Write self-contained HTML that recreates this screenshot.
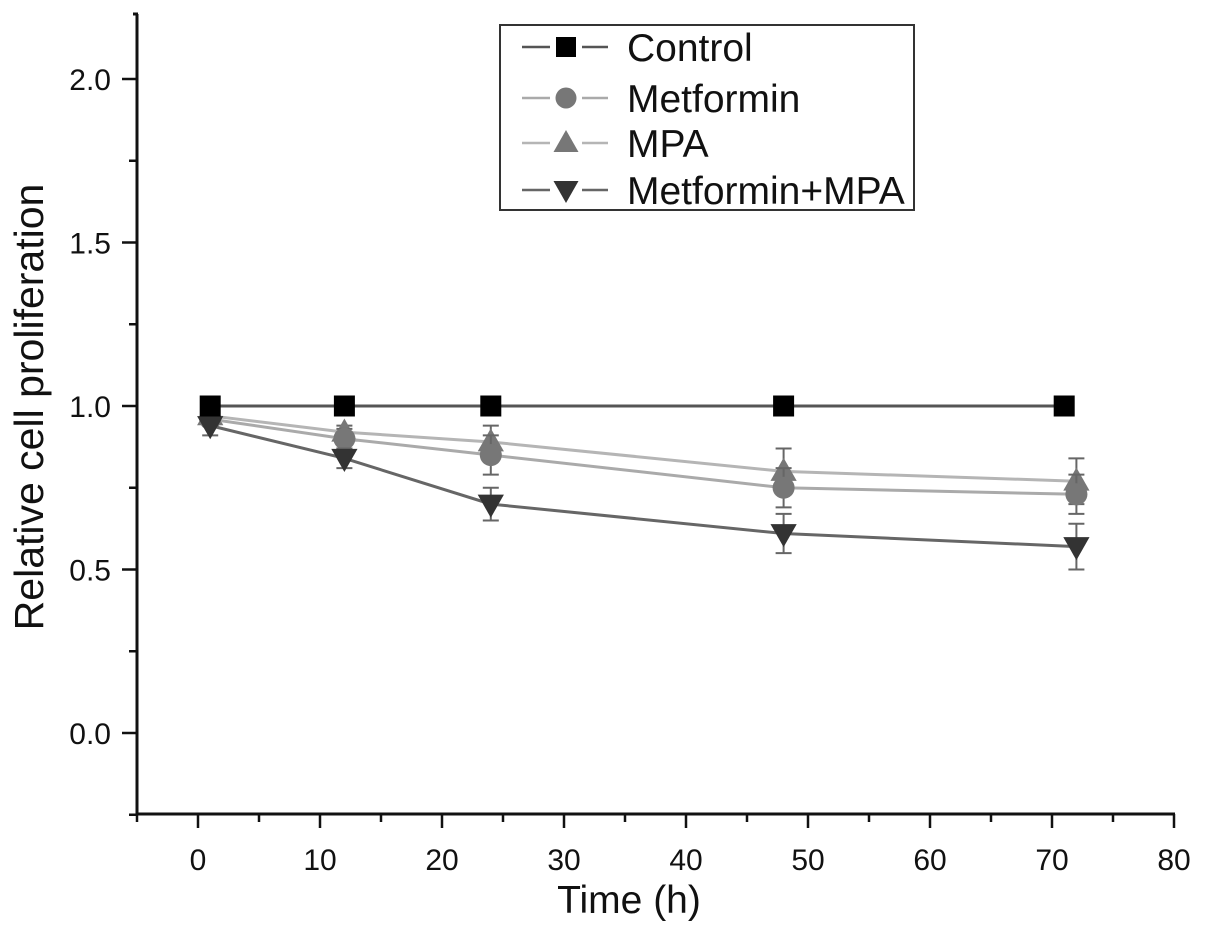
<!DOCTYPE html>
<html><head><meta charset="utf-8"><style>
body{margin:0;background:#fff;}
svg{display:block;font-family:"Liberation Sans",Arial,sans-serif;}
</style></head><body>
<svg id="chart" width="1205" height="933" viewBox="0 0 1205 933">
<g id="axes"></g>
<g id="series"></g>
<text transform="translate(43,407) rotate(-90)" text-anchor="middle" font-size="41" fill="#111">Relative cell proliferation</text>
<text x="629" y="913" text-anchor="middle" font-size="39" fill="#111">Time (h)</text>
<g>
<rect x="500" y="25" width="414" height="185" fill="#fff" stroke="#333" stroke-width="2"/>
<g id="legend-items"></g>
</g>
</svg>
<script>
const xTicks=[0,10,20,30,40,50,60,70,80];
const yTicks=[0.0,0.5,1.0,1.5,2.0];
const yTickLabels=["0.0","0.5","1.0","1.5","2.0"];
const seriesNames=["Control","Metformin","MPA","Metformin+MPA"];
const controlX=[1,12,24,48,71];
const controlY=[1.0,1.0,1.0,1.0,1.0];
const controlErr=[0,0,0,0,0];
const metforminX=[1,12,24,48,72];
const metforminY=[0.96,0.90,0.85,0.75,0.73];
const metforminErr=[0.02,0.03,0.06,0.06,0.06];
const mpaX=[1,12,24,48,72];
const mpaY=[0.97,0.92,0.89,0.80,0.77];
const mpaErr=[0.02,0.02,0.05,0.07,0.07];
const comboX=[1,12,24,48,72];
const comboY=[0.94,0.84,0.70,0.61,0.57];
const comboErr=[0.03,0.03,0.05,0.06,0.07];

const NS="http://www.w3.org/2000/svg";
const xS=v=>198+v*12.2;
const yS=v=>733-v*327;
function mk(tag,attrs,parent){const e=document.createElementNS(NS,tag);for(const k in attrs)e.setAttribute(k,attrs[k]);parent.appendChild(e);return e;}
const axes=document.getElementById('axes');
const ser=document.getElementById('series');
const X0=137,Y0=814,YT=14,XR=1175;
let a=mk('line',{x1:X0,y1:Y0,x2:XR,y2:Y0,stroke:'#111','stroke-width':3},axes);


a=mk('line',{x1:X0,y1:Y0+1,x2:X0,y2:YT,stroke:'#111','stroke-width':3},axes);


mk('line',{x1:X0-4,y1:YT,x2:X0+1,y2:YT,stroke:'#111','stroke-width':3},axes);
xTicks.forEach((t,i)=>{
  const x=xS(t);
  mk('line',{x1:x,y1:Y0,x2:x,y2:Y0+14,stroke:'#111','stroke-width':2.5},axes);
  if(i<xTicks.length-1) mk('line',{x1:xS(t+5),y1:Y0,x2:xS(t+5),y2:Y0+8,stroke:'#111','stroke-width':2.5},axes);
  const tx=mk('text',{x:x,y:Y0+56,'text-anchor':'middle','font-size':30,fill:'#111'},axes);
  tx.textContent=t;
  
  
});
mk('line',{x1:xS(-5),y1:Y0,x2:xS(-5),y2:Y0+8,stroke:'#111','stroke-width':2.5},axes);
yTicks.forEach((t,i)=>{
  const y=yS(t);
  mk('line',{x1:X0-15,y1:y,x2:X0,y2:y,stroke:'#111','stroke-width':2.5},axes);
  mk('line',{x1:X0-8,y1:yS(t+0.25),x2:X0,y2:yS(t+0.25),stroke:'#111','stroke-width':2.5},axes);
  const tx=mk('text',{x:X0-26,y:y+11,'text-anchor':'end','font-size':30,fill:'#111'},axes);
  tx.textContent=yTickLabels[i];
  
  
});
mk('line',{x1:X0-8,y1:yS(-0.25),x2:X0,y2:yS(-0.25),stroke:'#111','stroke-width':2.5},axes);

const styles=[
 {line:'#555',fill:'#000',shape:'square'},
 {line:'#aaa',fill:'#777',shape:'circle'},
 {line:'#b5b5b5',fill:'#777',shape:'up'},
 {line:'#666',fill:'#333',shape:'down'}];
function marker(shape,cx,cy,fill,parent,s){
  if(shape==='square') return mk('rect',{x:cx-s,y:cy-s,width:2*s,height:2*s,fill:fill},parent);
  if(shape==='circle') return mk('circle',{cx:cx,cy:cy,r:s*1.05,fill:fill},parent);
  if(shape==='up') return mk('polygon',{points:`${cx-s*1.25},${cy+s*0.9} ${cx+s*1.25},${cy+s*0.9} ${cx},${cy-s*1.3}`,fill:fill},parent);
  return mk('polygon',{points:`${cx-s*1.25},${cy-s*0.9} ${cx+s*1.25},${cy-s*0.9} ${cx},${cy+s*1.3}`,fill:fill},parent);
}
const allX=[controlX,metforminX,mpaX,comboX],allY=[controlY,metforminY,mpaY,comboY],allE=[controlErr,metforminErr,mpaErr,comboErr];
const order=[2,1,3,0];
order.forEach(si=>{
  const g=mk('g',{},ser);
  
  
  const st=styles[si];
  const pts=allX[si].map((x,i)=>xS(x)+','+yS(allY[si][i])).join(' ');
  mk('polyline',{points:pts,fill:'none',stroke:st.line,'stroke-width':3},g);
  allX[si].forEach((x,i)=>{
    const cx=xS(x),cy=yS(allY[si][i]),e=allE[si][i]*327;
    if(e>0){
      mk('line',{x1:cx,y1:cy-e,x2:cx,y2:cy+e,stroke:'#666','stroke-width':2},g);
      mk('line',{x1:cx-8,y1:cy-e,x2:cx+8,y2:cy-e,stroke:'#666','stroke-width':2},g);
      mk('line',{x1:cx-8,y1:cy+e,x2:cx+8,y2:cy+e,stroke:'#666','stroke-width':2},g);
    }
    const m=marker(st.shape,cx,cy,st.fill,g,10.5);
    
    
  });
});
const li=document.getElementById('legend-items');
const ly=[47,98,143,190];
seriesNames.forEach((n,i)=>{
  const g=mk('g',{},li);
  
  
  const st=styles[i];
  mk('line',{x1:522,y1:ly[i],x2:550,y2:ly[i],stroke:st.line,'stroke-width':2.5},g);
  mk('line',{x1:582,y1:ly[i],x2:608,y2:ly[i],stroke:st.line,'stroke-width':2.5},g);
  marker(st.shape,566,ly[i],st.fill,g,10);
  const t=mk('text',{x:627,y:ly[i]+14,'font-size':39,fill:'#111'},g);
  t.textContent=n;
});
</script>
</body></html>
